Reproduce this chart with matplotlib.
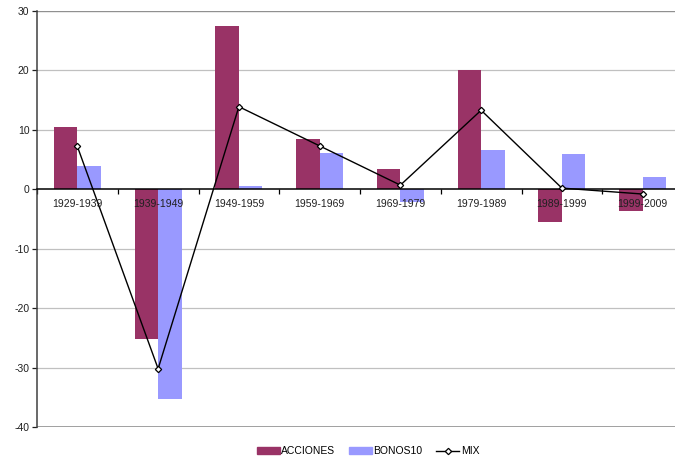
import numpy as np
import matplotlib
matplotlib.use("Agg")
import matplotlib.pyplot as plt
from matplotlib.lines import Line2D
from matplotlib.patches import Patch

plt.rcParams['font.family'] = ['Liberation Sans', 'DejaVu Sans']
plt.rcParams['axes.unicode_minus'] = False

decades = ["1929-1939", "1939-1949", "1949-1959", "1959-1969",
           "1969-1979", "1979-1989", "1989-1999", "1999-2009"]
acciones = [10.4, -25.2, 27.4, 8.4, 3.4, 20.0, -5.5, -3.6]
bonos10 = [3.9, -35.3, 0.5, 6.05, -2.1, 6.55, 5.9, 2.0]
mix = [7.2, -30.2, 13.9, 7.3, 0.7, 13.3, 0.2, -0.8]

W, H = 675, 461
fig = plt.figure(figsize=(W / 100, H / 100), dpi=100)
ax = fig.add_axes([37 / W, (H - 427) / H, (683 - 37) / W, (427 - 11) / H])

x = np.arange(len(decades))
bw = 0.29
ax.bar(x - bw / 2, acciones, bw, color="#993366", zorder=2)
ax.bar(x + bw / 2, bonos10, bw, color="#9999FF", zorder=2)
ax.plot(x, mix, color="black", lw=1, marker="D", ms=3.2, mfc="white",
        mec="black", mew=0.9, zorder=4)

ax.set_xlim(-0.5, len(decades) - 0.5)
ax.set_ylim(-40, 30)
ax.set_yticks(range(-40, 31, 10))
for v in range(-30, 30, 10):
    if v != 0:
        ax.axhline(v, color="#c0c0c0", lw=0.9, zorder=0)
ax.axhline(30, color="#909090", lw=1, zorder=0)
ax.axhline(-40, color="#909090", lw=1.2, zorder=0)

# category axis crosses at zero
ax.spines['bottom'].set_position(('data', 0))
ax.spines['bottom'].set_linewidth(1.1)
ax.spines['bottom'].set_zorder(3)
for s in ['top', 'right']:
    ax.spines[s].set_visible(False)
ax.spines['left'].set_color("#404040")
ax.spines['left'].set_linewidth(1.1)
ax.set_xticks(np.arange(-0.5, len(decades), 1.0))
ax.set_xticklabels([])
ax.tick_params(axis='x', direction='out', length=3.5, width=0.9)
ax.tick_params(axis='y', direction='out', length=3.5, width=0.9,
               labelsize=7.5, pad=2, colors="#202020")

for i, d in enumerate(decades):
    ax.annotate(d, (i, 0), xytext=(0, -7), textcoords='offset points',
                ha='center', va='top', fontsize=7.5, color="#202020", zorder=5)

handles = [Patch(color="#993366"), Patch(color="#9999FF"),
           Line2D([], [], color="black", lw=1, marker="D", ms=3.2,
                  mfc="white", mec="black", mew=0.9)]
fig.legend(handles, ["ACCIONES", "BONOS10", "MIX"], loc='center',
           bbox_to_anchor=(368 / W, 1 - 451 / H), ncol=3, frameon=False,
           fontsize=7.5, handlelength=2.2, handleheight=0.6,
           handletextpad=0.15, columnspacing=1.3)

fig.savefig("out.png", dpi=100)
